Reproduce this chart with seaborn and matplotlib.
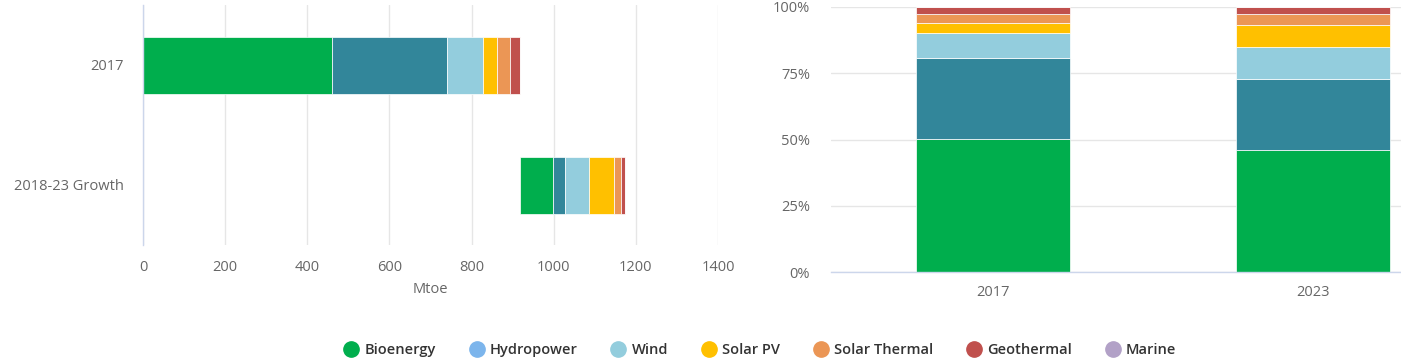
import numpy as np
import pandas as pd
import matplotlib
matplotlib.use("Agg")
import matplotlib.pyplot as plt
from matplotlib.lines import Line2D
from matplotlib.ticker import FuncFormatter
import seaborn as sns

# ---------------- data ----------------
sources = ["Bioenergy", "Hydropower", "Wind", "Solar PV", "Solar Thermal", "Geothermal", "Marine"]
values_2017 = [459, 282, 86, 35, 32, 23, 0.5]          # Mtoe
growth_2018_23 = [80, 31, 58, 60, 17, 9, 0.2]           # Mtoe
bar_categories = ["2017", "2018-23 Growth"]
share_categories = ["2017", "2023"]
x_ticks = [0, 200, 400, 600, 800, 1000, 1200, 1400]
y_ticks = [0, 0.25, 0.5, 0.75, 1.0]

bar_colors = ["#00AE4D", "#32869A", "#93CDDD", "#FFC000", "#EB9655", "#C0504D", "#B2A1C7"]
legend_colors = ["#00AE4D", "#7CB5EC", "#93CDDD", "#FFC000", "#EB9655", "#C0504D", "#B2A1C7"]

# ---------------- style ----------------
sns.set_theme(style="white")
plt.rcParams["font.family"] = ["Open Sans", "DejaVu Sans"]
TICK_C = "#666666"
GRID_C = "#e6e6e6"
AXIS_C = "#ccd6eb"
FS = 10.5

fig = plt.figure(figsize=(14.01, 3.63), dpi=100)
W, H = 1401, 363
axL = fig.add_axes([143 / W, 1 - 245 / H, (718 - 143) / W, (245 - 5) / H])
axR = fig.add_axes([831 / W, 1 - 272 / H, (W - 831) / W, (272 - 7) / H])

# ---------------- left: stacked horizontal (waterfall) ----------------
v17 = np.array(values_2017, dtype=float)
g = np.array(growth_2018_23, dtype=float)
start_growth = v17.sum()
cum17 = np.concatenate([[0], np.cumsum(v17)[:-1]])
cumg = start_growth + np.concatenate([[0], np.cumsum(g)[:-1]])

for i, s in enumerate(sources):
    df = pd.DataFrame({"cat": bar_categories, "val": [v17[i], g[i]]})
    sns.barplot(data=df, x="val", y="cat", order=bar_categories, orient="h",
                color=bar_colors[i], saturation=1, width=0.475, errorbar=None,
                left=[cum17[i], cumg[i]], edgecolor="white", linewidth=0.5,
                ax=axL, zorder=3)

axL.set_xlim(0, 1400)
axL.set_ylim(1.5, -0.5)
axL.set_xticks(x_ticks)
axL.set_xticklabels([str(t) for t in x_ticks])
axL.xaxis.grid(True, color=GRID_C, linewidth=1)
axL.yaxis.grid(False)
for sp in ["top", "right", "bottom"]:
    axL.spines[sp].set_visible(False)
axL.spines["left"].set_color(AXIS_C)
axL.spines["left"].set_linewidth(1)
axL.spines["left"].set_zorder(4)
axL.tick_params(axis="x", length=0, pad=11, labelsize=FS, labelcolor=TICK_C)
axL.tick_params(axis="y", length=0, pad=14, labelsize=FS, labelcolor=TICK_C)
axL.set_ylabel("")
axL.set_xlabel("Mtoe", fontsize=FS, color=TICK_C, labelpad=5)
axL.set_axisbelow(True)

# ---------------- right: 100% stacked columns ----------------
v23 = v17 + g
shares = np.vstack([v17 / v17.sum(), v23 / v23.sum()])  # rows: categories
bottoms = np.zeros(2)
for i, s in enumerate(sources):
    df = pd.DataFrame({"cat": share_categories, "val": shares[:, i]})
    sns.barplot(data=df, x="cat", y="val", order=share_categories,
                color=bar_colors[i], saturation=1, width=0.48, errorbar=None,
                bottom=bottoms.copy(), edgecolor="white", linewidth=0.5,
                ax=axR, zorder=3)
    bottoms += shares[:, i]

axR.set_xlim(-0.506, 1.275)
axR.set_ylim(0, 1.0)
axR.set_yticks(y_ticks)
axR.yaxis.set_major_formatter(FuncFormatter(lambda v, p: f"{int(round(v * 100))}%"))
axR.yaxis.grid(True, color=GRID_C, linewidth=1)
axR.xaxis.grid(False)
for sp in ["top", "right", "left"]:
    axR.spines[sp].set_visible(False)
axR.spines["bottom"].set_color(AXIS_C)
axR.spines["bottom"].set_linewidth(1)
axR.spines["bottom"].set_zorder(4)
axR.tick_params(axis="x", length=0, pad=9, labelsize=FS, labelcolor=TICK_C)
axR.tick_params(axis="y", length=0, pad=15, labelsize=FS, labelcolor=TICK_C)
axR.set_xlabel("")
axR.set_ylabel("")
axR.set_axisbelow(True)

# ---------------- legend ----------------
handles = [Line2D([0], [0], marker="o", linestyle="", markersize=11,
                  markerfacecolor=c, markeredgecolor=c) for c in legend_colors]
fig.legend(handles, sources, loc="center", bbox_to_anchor=(760 / W, 1 - 350 / H),
           ncol=7, frameon=False, handletextpad=0.4, columnspacing=2.3,
           prop={"size": 10.5, "weight": "semibold"}, labelcolor="#333333",
           handlelength=1.0)

fig.savefig("out.png", dpi=100)
